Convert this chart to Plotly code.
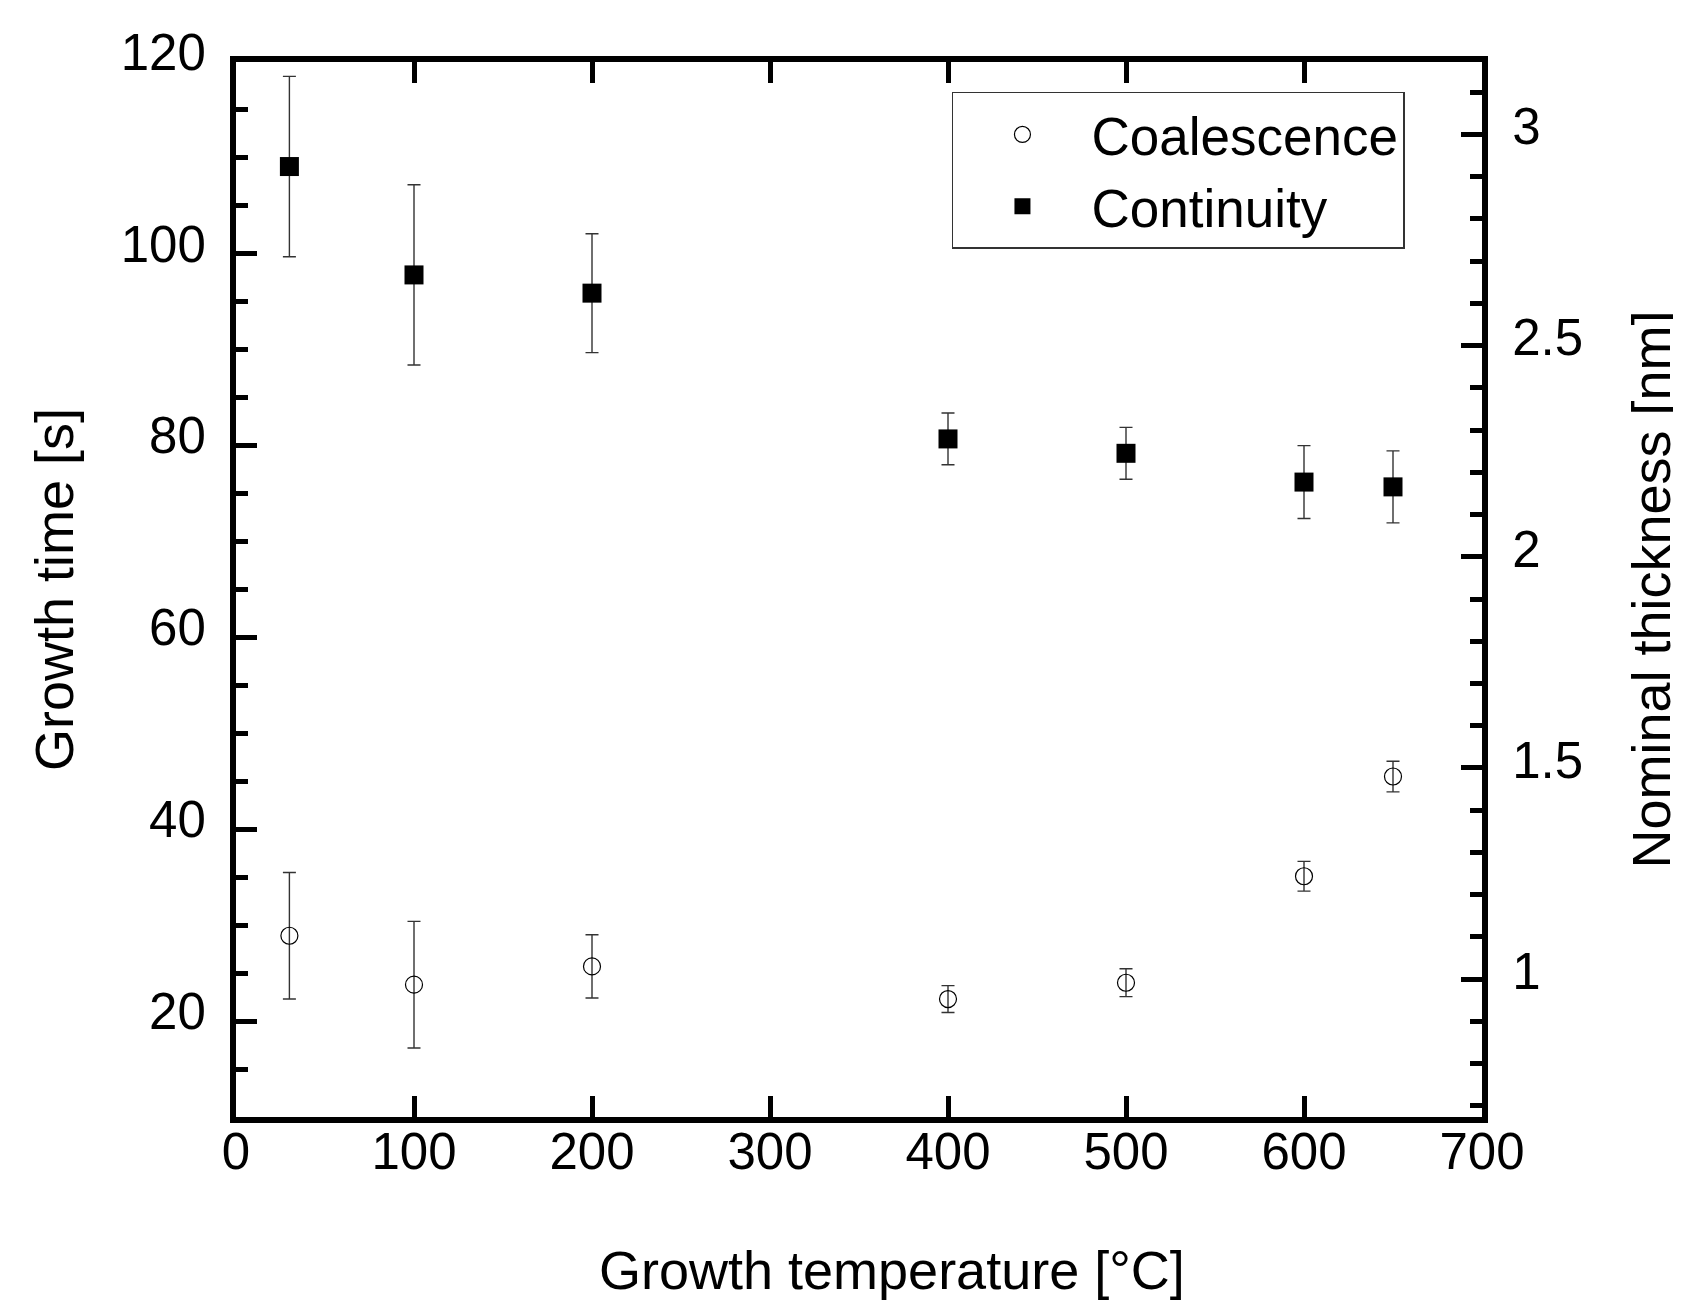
import plotly.graph_objects as go

# Data
temperature = [30, 100, 200, 400, 500, 600, 650]
coalescence_time = [28.9, 23.8, 25.7, 22.3, 24.0, 35.1, 45.5]
coalescence_err = [6.6, 6.6, 3.3, 1.4, 1.45, 1.55, 1.6]
continuity_time = [109.1, 97.8, 95.9, 80.7, 79.2, 76.2, 75.7]
continuity_err = [9.4, 9.4, 6.2, 2.7, 2.7, 3.8, 3.75]

x_title = "Growth temperature [°C]"
y_title = "Growth time [s]"
y2_title = "Nominal thickness [nm]"

FONT = "Liberation Sans, Arial, Helvetica, sans-serif"

fig = go.Figure()

fig.add_trace(go.Scatter(
    x=temperature, y=coalescence_time, name="Coalescence", mode="markers",
    marker=dict(symbol="circle-open", size=17, color="black", line=dict(width=1.2, color="black")),
    error_y=dict(type="data", array=coalescence_err, visible=True, color="#333333", thickness=1.4, width=6.5),
))
fig.add_trace(go.Scatter(
    x=temperature, y=continuity_time, name="Continuity", mode="markers",
    marker=dict(symbol="square", size=19, color="black"),
    error_y=dict(type="data", array=continuity_err, visible=True, color="#333333", thickness=1.4, width=6.5),
))
# empty trace so that the secondary (thickness) axis is drawn
fig.add_trace(go.Scatter(x=[None], y=[None], yaxis="y2", showlegend=False, hoverinfo="skip", mode="markers"))

fig.update_layout(
    width=1673, height=1295,
    paper_bgcolor="white", plot_bgcolor="white",
    margin=dict(l=228, r=199, t=54, b=186, autoexpand=False),
    font=dict(family=FONT, size=51, color="black"),
    showlegend=True,
    legend=dict(
        x=0.5746, y=0.9716, xanchor="left", yanchor="top",
        bordercolor="#333333", borderwidth=1.5, bgcolor="white",
        font=dict(size=53, family=FONT, color="black"),
        itemwidth=128, tracegroupgap=0,
    ),
    xaxis=dict(
        range=[0, 700], tickmode="linear", tick0=0, dtick=100,
        ticks="inside", ticklen=21, tickwidth=5, tickcolor="black",
        showline=True, linewidth=6, linecolor="black", mirror="ticks",
        showgrid=False, zeroline=False,
        tickfont=dict(size=51), ticklabelstandoff=-15,
        automargin=False,
    ),
    yaxis=dict(
        range=[10, 120], tickmode="linear", tick0=0, dtick=20,
        ticks="inside", ticklen=21, tickwidth=5, tickcolor="black",
        minor=dict(ticks="inside", ticklen=12, tickwidth=5, tickcolor="black", dtick=5, tick0=0, showgrid=False),
        showline=True, linewidth=6, linecolor="black", mirror=True,
        showgrid=False, zeroline=False,
        tickfont=dict(size=51), ticklabelstandoff=14, ticklabelshift=-10,
        title=dict(text=y_title, font=dict(size=54), standoff=32),
        automargin=False,
    ),
    yaxis2=dict(
        overlaying="y", side="right", anchor="x",
        range=[0.6735, 3.1715], tickmode="linear", tick0=0, dtick=0.5,
        ticks="inside", ticklen=21, tickwidth=5, tickcolor="black",
        minor=dict(ticks="inside", ticklen=12, tickwidth=5, tickcolor="black", dtick=0.1, tick0=0, showgrid=False),
        showline=True, linewidth=6, linecolor="black",
        showgrid=False, zeroline=False,
        tickfont=dict(size=51), ticklabelstandoff=14, ticklabelshift=-8,
        title=dict(text=y2_title, font=dict(size=54), standoff=61),
        automargin=False,
    ),
    annotations=[dict(
        text=x_title, xref="paper", yref="paper", x=0.5265, y=-0.145,
        xanchor="center", yanchor="middle", showarrow=False,
        font=dict(size=54, family=FONT, color="black"),
    )],
)

fig.write_html("out.html")
